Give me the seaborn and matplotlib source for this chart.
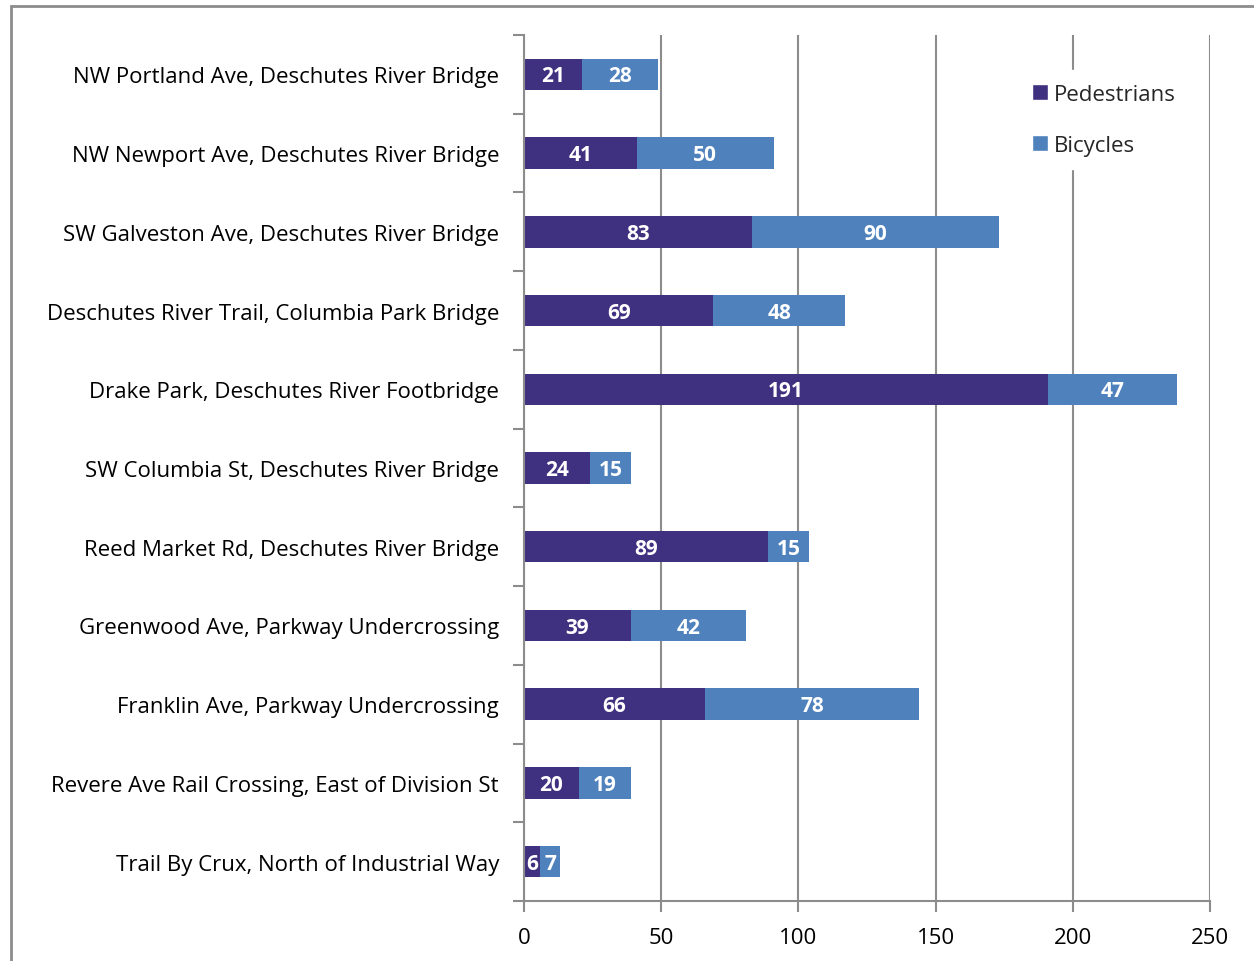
import matplotlib
matplotlib.use("Agg")
import matplotlib.pyplot as plt
import seaborn as sns
import numpy as np
from matplotlib.patches import Patch, Rectangle
from matplotlib.ticker import FixedLocator

categories = [
    "NW Portland Ave, Deschutes River Bridge",
    "NW Newport Ave, Deschutes River Bridge",
    "SW Galveston Ave, Deschutes River Bridge",
    "Deschutes River Trail, Columbia Park Bridge",
    "Drake Park, Deschutes River Footbridge",
    "SW Columbia St, Deschutes River Bridge",
    "Reed Market Rd, Deschutes River Bridge",
    "Greenwood Ave, Parkway Undercrossing",
    "Franklin Ave, Parkway Undercrossing",
    "Revere Ave Rail Crossing, East of Division St",
    "Trail By Crux, North of Industrial Way",
]
pedestrians = [21, 41, 83, 69, 191, 24, 89, 39, 66, 20, 6]
bicycles = [28, 50, 90, 48, 47, 15, 15, 42, 78, 19, 7]
x_ticks = [0, 50, 100, 150, 200, 250]

ped_color = "#403080"
bike_color = "#4F81BD"
grid_color = "#8c8c8c"

sns.set_theme(style="white")
plt.rcParams["font.family"] = ["Open Sans", "DejaVu Sans"]

fig = plt.figure(figsize=(12.54, 9.62), dpi=100)
ax = fig.add_axes([524/1254, 1-902/962, (1210-524)/1254, (902-36)/962])

totals = np.array(pedestrians) + np.array(bicycles)
sns.barplot(x=totals, y=categories, color=bike_color, orient="h", width=0.4,
            saturation=1, ax=ax)
sns.barplot(x=pedestrians, y=categories, color=ped_color, orient="h", width=0.4,
            saturation=1, ax=ax)
for p in ax.patches:
    p.set_edgecolor("none")

for i, (pv, bv) in enumerate(zip(pedestrians, bicycles)):
    ax.text(pv/2, i + 0.02, str(pv), ha="center", va="center", color="white",
            fontsize=15, fontweight="bold")
    ax.text(pv + bv/2, i + 0.02, str(bv), ha="center", va="center", color="white",
            fontsize=15, fontweight="bold")

ax.set_xlim(0, 250)
ax.set_ylim(len(categories)-0.5, -0.5)
ax.set_xticks(x_ticks)
ax.set_xticklabels([str(t) for t in x_ticks], fontsize=16)
ax.set_yticks(range(len(categories)))
ax.set_yticklabels(categories, fontsize=16)
ax.yaxis.set_minor_locator(FixedLocator(np.arange(-0.5, len(categories), 1)))
ax.tick_params(axis="y", which="major", length=0, pad=18, colors="black")
ax.tick_params(axis="y", which="minor", length=8, width=1.5, color=grid_color, left=True)
ax.tick_params(axis="x", which="major", length=8, width=1.5, color=grid_color, bottom=True,
               pad=11, colors="black")
ax.tick_params(axis="x", which="major", color=grid_color)
ax.xaxis.grid(True, color=grid_color, linewidth=1.5)
ax.set_axisbelow(True)
for s in ["top", "right"]:
    ax.spines[s].set_visible(False)
for s in ["left", "bottom"]:
    ax.spines[s].set_color(grid_color)
    ax.spines[s].set_linewidth(1.5)
ax.set_xlabel("")
ax.set_ylabel("")

handles = [Patch(facecolor=ped_color, label="Pedestrians"),
           Patch(facecolor=bike_color, label="Bicycles")]
leg = ax.legend(handles=handles, loc="upper left", bbox_to_anchor=(0.705, 0.972),
                frameon=True, fontsize=16, handlelength=0.7, handleheight=0.7,
                handletextpad=0.3, labelspacing=1.35, borderpad=0.6, fancybox=False)
leg.get_frame().set_facecolor("white")
leg.get_frame().set_edgecolor("white")
leg.get_frame().set_alpha(1)

fig.patches.append(Rectangle((11/1254, -0.1), 1.2, 1-7/962+0.1, transform=fig.transFigure,
                             fill=False, edgecolor="#8c8c8c", linewidth=2, zorder=-1))

fig.savefig("out.png", dpi=100, facecolor="white")
